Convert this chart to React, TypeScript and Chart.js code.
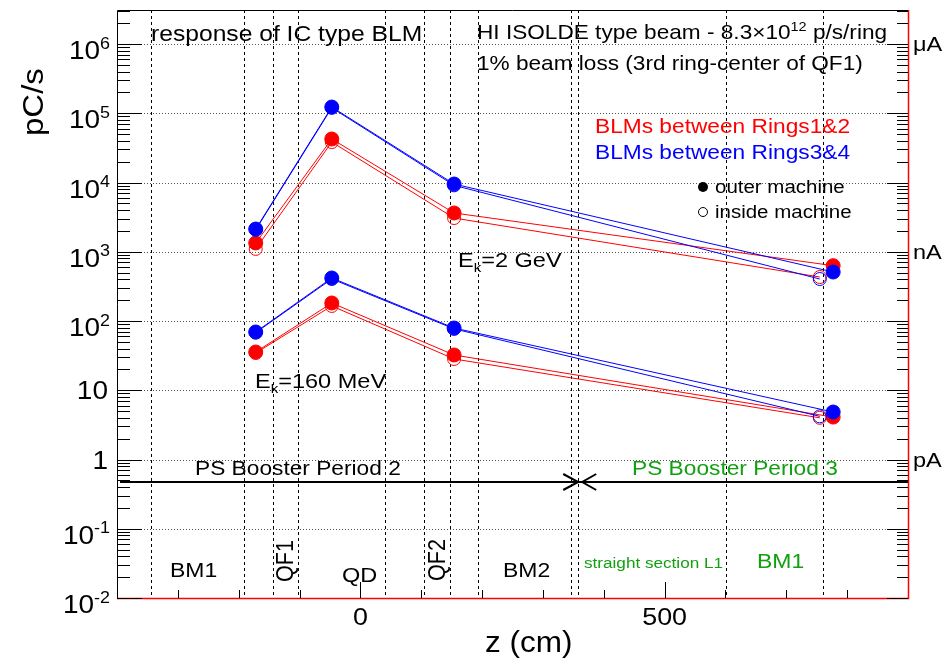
import { useEffect, useRef } from 'react';
import { Chart, registerables } from 'chart.js';

Chart.register(...registerables);

// ---------- data ----------
const zOuter = [-172, -47, 154, 777];
const zInner = [-172, -47, 154, 755];

const gevRedOuter = [1340, 42500, 3630, 630];
const gevRedInner = [1100, 38400, 3070, 432];
const gevBlueOuter = [2130, 123000, 9510, 510];
const gevBlueInner = [2080, 120000, 9100, 404];

const mevRedOuter = [35.7, 182, 32.3, 4.1];
const mevRedInner = [34.5, 165, 28.3, 4.0];
const mevBlueOuter = [69.4, 418, 79.2, 4.85];
const mevBlueInner = [68, 405, 77, 4.2];

const yDecades = [-2, -1, 0, 1, 2, 3, 4, 5, 6];
const xMajorTicks = [0, 500];
const xMinorTicks = [-300, -200, -100, 100, 200, 300, 400, 600, 700, 800];
const sectionBoundaries = [-344, -191, -144, -103, 40, 105, 147, 193, 346, 358, 601, 760];
const periodLineLevel = 0.47;
const periodSplitZ = 358;
const currentUnits = ['μA', 'nA', 'pA'];
const currentUnitLevels = [1e6, 1e3, 1];

const RED = '#ff0000';
const BLUE = '#0000ff';
const GREEN = '#12a012';
const FONT = '"Liberation Sans", Arial, Helvetica, sans-serif';
const SX = 1.12;

type Part = { t: string; sup?: boolean; sub?: boolean };

function fnt(size: number) {
  return `${size}px ${FONT}`;
}

function drawRich(
  ctx: CanvasRenderingContext2D,
  parts: Part[],
  x: number,
  y: number,
  size: number,
  color: string,
  align: 'left' | 'right' | 'center' = 'left',
  rot = 0,
  sx = SX,
  sy = 1
) {
  ctx.save();
  ctx.translate(x, y);
  if (rot) ctx.rotate(rot);
  ctx.scale(sx, sy);
  ctx.fillStyle = color;
  ctx.textAlign = 'left';
  ctx.textBaseline = 'alphabetic';
  let w = 0;
  for (const p of parts) {
    ctx.font = fnt(p.sup || p.sub ? size * 0.64 : size);
    w += ctx.measureText(p.t).width;
  }
  let cx = align === 'right' ? -w : align === 'center' ? -w / 2 : 0;
  for (const p of parts) {
    const fs = p.sup || p.sub ? size * 0.64 : size;
    const dy = p.sup ? -size * 0.42 : p.sub ? size * 0.24 : 0;
    ctx.font = fnt(fs);
    ctx.fillText(p.t, cx, dy);
    cx += ctx.measureText(p.t).width;
  }
  ctx.restore();
}

function txt(
  ctx: CanvasRenderingContext2D,
  s: string,
  x: number,
  y: number,
  size: number,
  color = '#000',
  align: 'left' | 'right' | 'center' = 'left'
) {
  drawRich(ctx, [{ t: s }], x, y, size, color, align);
}

const rootStyle = {
  id: 'rootStyle',
  beforeDatasetsDraw(chart: any) {
    const { ctx, chartArea: a, scales } = chart;
    const x = scales.x;
    const y = scales.y;
    ctx.save();
    // horizontal dotted grid at decades
    ctx.strokeStyle = '#555';
    ctx.lineWidth = 1;
    ctx.setLineDash([1, 2]);
    for (const d of yDecades) {
      if (d === yDecades[0]) continue;
      const yy = Math.round(y.getPixelForValue(Math.pow(10, d))) + 0.5;
      ctx.beginPath();
      ctx.moveTo(a.left, yy);
      ctx.lineTo(a.right, yy);
      ctx.stroke();
    }
    // vertical dashed section boundaries
    ctx.strokeStyle = '#000';
    ctx.setLineDash([3, 3]);
    for (const z of sectionBoundaries) {
      const xx = Math.round(x.getPixelForValue(z)) + 0.5;
      ctx.beginPath();
      ctx.moveTo(xx, a.top);
      ctx.lineTo(xx, a.bottom);
      ctx.stroke();
    }
    ctx.setLineDash([]);
    // period line
    const yy = Math.round(y.getPixelForValue(periodLineLevel));
    ctx.lineWidth = 2;
    ctx.strokeStyle = '#000';
    ctx.beginPath();
    ctx.moveTo(x.getPixelForValue(-395), yy);
    ctx.lineTo(a.right, yy);
    ctx.stroke();
    const xs = x.getPixelForValue(periodSplitZ);
    ctx.beginPath();
    ctx.moveTo(xs - 15, yy - 8);
    ctx.lineTo(xs, yy);
    ctx.lineTo(xs - 15, yy + 8);
    ctx.moveTo(xs + 18, yy - 8);
    ctx.lineTo(xs + 4, yy);
    ctx.lineTo(xs + 18, yy + 8);
    ctx.stroke();
    ctx.restore();
  },
  afterDatasetsDraw(chart: any) {
    const { ctx, chartArea: a, scales } = chart;
    const x = scales.x;
    const y = scales.y;
    ctx.save();
    // frame
    ctx.lineWidth = 1;
    ctx.strokeStyle = '#000';
    ctx.beginPath();
    ctx.moveTo(a.left + 0.5, a.bottom);
    ctx.lineTo(a.left + 0.5, a.top + 0.5);
    ctx.lineTo(a.right, a.top + 0.5);
    ctx.stroke();
    ctx.strokeStyle = RED;
    ctx.lineWidth = 1.5;
    ctx.beginPath();
    ctx.moveTo(a.right + 0.5, a.top);
    ctx.lineTo(a.right + 0.5, a.bottom + 0.5);
    ctx.lineTo(a.left, a.bottom + 0.5);
    ctx.stroke();

    // y ticks (left and right)
    ctx.strokeStyle = '#000';
    ctx.lineWidth = 1;
    const ymax = y.max;
    for (const d of yDecades) {
      for (let m = 1; m <= 9; m++) {
        const v = m * Math.pow(10, d);
        if (v > ymax) break;
        const yy = Math.round(y.getPixelForValue(v)) + 0.5;
        const major = m === 1;
        ctx.beginPath();
        ctx.moveTo(a.left, yy);
        ctx.lineTo(a.left + (major ? 25 : 13), yy);
        ctx.moveTo(a.right, yy);
        ctx.lineTo(a.right - (major ? 21 : 11), yy);
        ctx.stroke();
      }
    }
    // x ticks
    for (const z of xMajorTicks) {
      const xx = Math.round(x.getPixelForValue(z)) + 0.5;
      ctx.beginPath();
      ctx.moveTo(xx, a.bottom);
      ctx.lineTo(xx, a.bottom - 16);
      ctx.stroke();
    }
    for (const z of xMinorTicks) {
      const xx = Math.round(x.getPixelForValue(z)) + 0.5;
      ctx.beginPath();
      ctx.moveTo(xx, a.bottom);
      ctx.lineTo(xx, a.bottom - 8);
      ctx.stroke();
    }

    // y tick labels
    for (const d of yDecades) {
      const yy = y.getPixelForValue(Math.pow(10, d));
      if (d === 0) txt(ctx, '1', 108, yy + 9, 25, '#000', 'right');
      else if (d === 1) txt(ctx, '10', 108, yy + 9, 25, '#000', 'right');
      else drawRich(ctx, [{ t: '10' }, { t: String(d), sup: true }], 110, yy + 15, 25, '#000', 'right');
    }
    // x tick labels
    for (const z of xMajorTicks) {
      txt(ctx, String(z), x.getPixelForValue(z), 625, 24, '#000', 'center');
    }
    // right unit labels
    currentUnits.forEach((u, i) => {
      txt(ctx, u, 913, y.getPixelForValue(currentUnitLevels[i]) + 7, 21);
    });

    // axis titles
    drawRich(ctx, [{ t: 'pC/s' }], 43, 136, 30, '#000', 'left', -Math.PI / 2, 1.1, 1);
    drawRich(ctx, [{ t: 'z (cm)' }], 485, 652, 30, '#000', 'left', 0, 1.05, 1);

    // annotations
    txt(ctx, 'response of IC type BLM', 151, 41, 22);
    drawRich(
      ctx,
      [{ t: 'HI ISOLDE type beam - 8.3×10' }, { t: '12', sup: true }, { t: ' p/s/ring' }],
      477,
      39,
      20.2
    );
    txt(ctx, '1% beam loss (3rd ring-center of QF1)', 477, 70, 20.2);
    txt(ctx, 'BLMs between Rings1&2', 595, 133, 20.3, RED);
    txt(ctx, 'BLMs between Rings3&4', 595, 159, 20.3, BLUE);

    // legend markers
    ctx.fillStyle = '#000';
    ctx.beginPath();
    ctx.arc(703, 187, 5, 0, Math.PI * 2);
    ctx.fill();
    ctx.strokeStyle = '#000';
    ctx.lineWidth = 1;
    ctx.beginPath();
    ctx.arc(703, 212, 4.5, 0, Math.PI * 2);
    ctx.stroke();
    txt(ctx, 'outer machine', 715, 193, 18.3);
    txt(ctx, 'inside machine', 715, 218, 18.3);

    drawRich(ctx, [{ t: 'E' }, { t: 'k', sub: true }, { t: '=2 GeV' }], 458, 267, 21, '#000');
    drawRich(ctx, [{ t: 'E' }, { t: 'k', sub: true }, { t: '=160 MeV' }], 255, 388, 21, '#000');

    txt(ctx, 'PS Booster Period 2', 195, 475, 20.3);
    txt(ctx, 'PS Booster Period 3', 632, 475, 20.3, GREEN);

    txt(ctx, 'BM1', 170, 577, 20.5);
    drawRich(ctx, [{ t: 'QF1' }], 293, 582, 24, '#000', 'left', -Math.PI / 2, 0.9, 1);
    txt(ctx, 'QD', 342, 582, 21);
    drawRich(ctx, [{ t: 'QF2' }], 445, 581, 24, '#000', 'left', -Math.PI / 2, 0.9, 1);
    txt(ctx, 'BM2', 503, 577, 20.5);
    txt(ctx, 'straight section L1', 584, 568, 15.3, GREEN);
    txt(ctx, 'BM1', 757, 568, 20.5, GREEN);

    ctx.restore();
  },
};

function series(xs: number[], ys: number[], color: string, filled: boolean, order: number, label: string) {
  return {
    label,
    data: xs.map((z, i) => ({ x: z, y: ys[i] })),
    showLine: true,
    borderColor: color,
    borderWidth: 1,
    pointRadius: filled ? 7 : 6.5,
    pointHoverRadius: filled ? 7 : 6.5,
    pointBackgroundColor: filled ? color : 'rgba(0,0,0,0)',
    pointBorderColor: color,
    pointBorderWidth: 1,
    fill: false,
    tension: 0,
    order,
  };
}

export default function App() {
  const ref = useRef<HTMLCanvasElement>(null);
  useEffect(() => {
    if (!ref.current) return;
    const chart = new Chart(ref.current, {
      type: 'scatter',
      data: {
        datasets: [
          series(zOuter, gevBlueOuter, BLUE, true, 0, '2 GeV Rings3&4 outer'),
          series(zOuter, mevBlueOuter, BLUE, true, 1, '160 MeV Rings3&4 outer'),
          series(zInner, gevBlueInner, BLUE, false, 2, '2 GeV Rings3&4 inside'),
          series(zInner, mevBlueInner, BLUE, false, 3, '160 MeV Rings3&4 inside'),
          series(zOuter, gevRedOuter, RED, true, 4, '2 GeV Rings1&2 outer'),
          series(zOuter, mevRedOuter, RED, true, 5, '160 MeV Rings1&2 outer'),
          series(zInner, gevRedInner, RED, false, 6, '2 GeV Rings1&2 inside'),
          series(zInner, mevRedInner, RED, false, 7, '160 MeV Rings1&2 inside'),
        ] as any,
      },
      options: {
        responsive: false,
        animation: false,
        events: [],
        layout: { padding: { left: 117, top: 10, right: 39, bottom: 62 } },
        plugins: { legend: { display: false }, tooltip: { enabled: false } },
        scales: {
          x: { type: 'linear', min: -400, max: 900, display: false },
          y: { type: 'logarithmic', min: 0.01, max: 3.1e6, display: false },
        },
      },
      plugins: [rootStyle],
    });
    return () => chart.destroy();
  }, []);
  return (
    <canvas
      ref={ref}
      width={947}
      height={660}
      style={{ position: 'fixed', left: 0, top: 0, width: 947, height: 660, background: '#fff' }}
    />
  );
}
